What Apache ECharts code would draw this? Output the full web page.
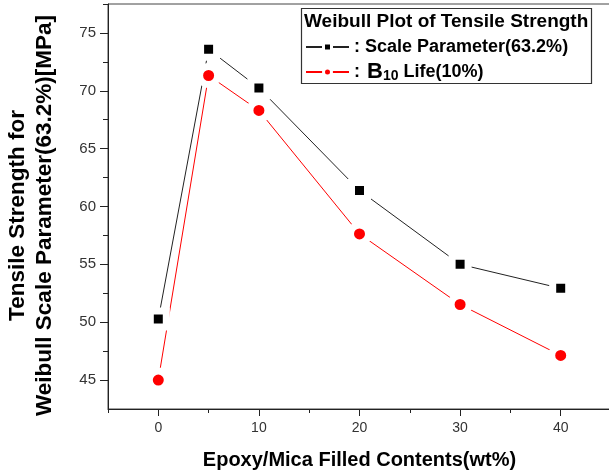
<!DOCTYPE html>
<html>
<head>
<meta charset="utf-8">
<script src="https://cdn.jsdelivr.net/npm/echarts@6/dist/echarts.min.js"></script>
<style>
  html, body { margin: 0; padding: 0; background: #fff; }
  #chart { width: 609px; height: 476px; }
</style>
</head>
<body>
<div id="chart"></div>
<script>
// data
const contents = [0, 5, 10, 20, 30, 40]
const scaleParam = [50.27, 73.58, 70.25, 61.38, 55.0, 52.93]
const b10Life = [45.0, 71.32, 68.3, 57.63, 51.53, 47.13]

const xTicks = [0, 10, 20, 30, 40]
const xMinorTicks = [-5, 5, 15, 25, 35]
const yTicks = [45, 50, 55, 60, 65, 70, 75]
const yMinorTicks = [47.5, 52.5, 57.5, 62.5, 67.5, 72.5, 77.5]

const FONT = 'Liberation Sans, Arial, sans-serif'
const axisColor = '#222'

const chart = echarts.init(document.getElementById('chart'))

const pairs = (ys) => contents.map((x, i) => [x, ys[i]])

const baseX = {
  type: 'value', min: -5, max: 45, gridIndex: 0, position: 'bottom',
  splitLine: { show: false }
}
const baseY = {
  type: 'value', min: 42.5, max: 77.5, gridIndex: 0, position: 'left',
  splitLine: { show: false }
}

chart.setOption({
  animation: false,
  backgroundColor: '#fff',
  grid: {
    left: 108, top: 4, right: -2, bottom: 67,
    outerBoundsMode: 'none',
    show: true, borderColor: '#444', borderWidth: 1
  },
  xAxis: [
    {
      ...baseX,
      name: 'Epoxy/Mica Filled Contents(wt%)',
      nameLocation: 'middle',
      nameGap: 41,
      nameTextStyle: { fontFamily: FONT, fontWeight: 'bold', fontSize: 20, color: '#000' },
      axisLine: { onZero: false, lineStyle: { color: axisColor, width: 1 } },
      axisTick: { length: 7, inside: false, lineStyle: { color: axisColor }, customValues: xTicks },
      axisLabel: { fontFamily: FONT, fontSize: 14, color: '#333', margin: 12, customValues: xTicks }
    },
    {
      ...baseX,
      axisLine: { show: false, onZero: false },
      axisTick: { length: 4, lineStyle: { color: axisColor }, customValues: xMinorTicks },
      axisLabel: { show: false }
    }
  ],
  yAxis: [
    {
      ...baseY,
      name: 'Tensile Strength for\nWeibull Scale Parameter(63.2%)[MPa]',
      nameLocation: 'middle',
      nameGap: 50,
      nameRotate: 90,
      nameTextStyle: {
        fontFamily: FONT, fontWeight: 'bold', fontSize: 22.5, color: '#000',
        lineHeight: 27, padding: [0, 18, 0, 0]
      },
      axisLine: { onZero: false, lineStyle: { color: axisColor, width: 1 } },
      axisTick: { length: 8, lineStyle: { color: axisColor }, customValues: yTicks },
      axisLabel: { fontFamily: FONT, fontSize: 15, color: '#333', margin: 12, customValues: yTicks }
    },
    {
      ...baseY,
      axisLine: { show: false, onZero: false },
      axisTick: { length: 5, lineStyle: { color: axisColor }, customValues: yMinorTicks },
      axisLabel: { show: false }
    }
  ],
  legend: {
    orient: 'vertical',
    left: 305,
    top: 38,
    itemWidth: 43,
    itemHeight: 10,
    itemGap: 5,
    padding: 0,
    textStyle: { fontFamily: FONT, fontWeight: 'bold', fontSize: 18, color: '#000' },
    itemStyle: { borderColor: '#fff', borderWidth: 3 },
    formatter: (name) => name === 'Scale Parameter'
      ? ': Scale Parameter(63.2%)'
      : '{t|: }{big|B}{sub|10}{t| Life(10%)}',
    data: [
      { name: 'Scale Parameter' },
      { name: 'B10 Life', textStyle: {
        rich: {
          t: { fontFamily: FONT, fontWeight: 'bold', fontSize: 18, color: '#000' },
          big: { fontFamily: FONT, fontWeight: 'bold', fontSize: 22, color: '#000', padding: [0, 0, 0, 2] },
          sub: { fontFamily: FONT, fontWeight: 'bold', fontSize: 14, color: '#000', verticalAlign: 'bottom', padding: [8, 0, 0, 0] }
        }
      } }
    ]
  },
  graphic: [
    {
      type: 'rect',
      shape: { x: 301.5, y: 8.5, width: 290, height: 75 },
      style: { fill: '#fff', stroke: '#333', lineWidth: 1.2 },
      z: 0
    },
    {
      type: 'text',
      left: 304, top: 12,
      style: { text: 'Weibull Plot of Tensile Strength', fontFamily: FONT, fontWeight: 'bold', fontSize: 19, fill: '#000' },
      z: 1
    }
  ],
  series: [
    {
      name: 'Scale Parameter',
      type: 'line',
      data: pairs(scaleParam),
      symbol: 'rect',
      symbolSize: 16,
      lineStyle: { color: '#222', width: 1 },
      itemStyle: { color: '#000', borderColor: '#fff', borderWidth: 7 },
      z: 3
    },
    {
      name: 'B10 Life',
      type: 'line',
      data: pairs(b10Life),
      symbol: 'circle',
      symbolSize: 18,
      lineStyle: { color: '#ff0000', width: 1 },
      itemStyle: { color: '#ff0000', borderColor: '#fff', borderWidth: 7 },
      z: 3
    }
  ]
})
</script>
</body>
</html>
